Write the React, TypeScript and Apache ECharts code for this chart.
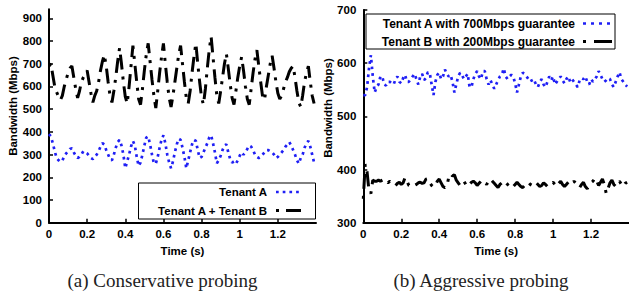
import React, { useEffect, useRef } from 'react';
import * as echarts from 'echarts';

// sampling step of the time axis (s)
const STEP = 0.01;

// (a) Conservative probing
const consTenantA = [
  390, 380, 350, 315, 285, 275, 268, 272, 295, 305,
  315, 325, 328, 310, 295, 285, 290, 300, 315, 310,
  305, 295, 285, 280, 290, 300, 315, 335, 350, 345,
  320, 300, 280, 275, 300, 330, 355, 365, 340, 300,
  240, 270, 300, 335, 360, 340, 290, 250, 265, 300,
  340, 375, 380, 345, 300, 262, 260, 290, 330, 365,
  385, 350, 300, 265, 240, 270, 310, 345, 370, 365,
  330, 290, 240, 275, 310, 345, 365, 360, 320, 285,
  290, 310, 330, 350, 375, 385, 350, 310, 262, 275,
  295, 320, 340, 345, 310, 280, 265, 270, 260, 275,
  295, 310, 300, 310, 325, 340, 335, 320, 300, 290,
  285, 290, 300, 310, 320, 320, 315, 310, 300, 285,
  290, 300, 310, 320, 335, 345, 355, 340, 320, 300,
  275, 260, 285, 300, 330, 350, 360, 335, 300, 265,
];
const consTenantAB = [
  690, 700, 650, 600, 575, 555, 540, 560, 600, 630,
  660, 680, 690, 640, 590, 550, 580, 620, 640, 655,
  670, 620, 570, 530, 560, 580, 620, 670, 710, 740,
  690, 620, 560, 530, 580, 640, 710, 770, 700, 620,
  555, 525, 600, 690, 780, 700, 620, 545, 520, 590,
  670, 740, 790, 710, 630, 560, 505, 580, 660, 730,
  790, 700, 620, 550, 510, 560, 620, 680, 740, 780,
  700, 620, 550, 525, 580, 660, 730, 790, 700, 620,
  550, 520, 590, 680, 760, 820, 730, 640, 560, 525,
  580, 640, 700, 745, 680, 610, 550, 520, 580, 640,
  690, 730, 670, 600, 545, 520, 590, 660, 720, 760,
  690, 620, 555, 540, 600, 650, 700, 735, 680, 620,
  570, 545, 560, 590, 620, 640, 665, 680, 690, 640,
  580, 530, 510, 560, 620, 660, 690, 620, 560, 525,
];

// (b) Aggressive probing
const aggTenantA = [
  540, 540, 555, 590, 615, 575, 545, 555, 560, 575,
  575, 560, 558, 565, 565, 562, 560, 570, 575, 565,
  562, 572, 578, 565, 565, 570, 575, 580, 570, 560,
  575, 580, 568, 572, 583, 582, 560, 540, 565, 578,
  582, 570, 575, 588, 580, 575, 578, 565, 545, 560,
  575, 582, 578, 570, 575, 580, 555, 555, 570, 580,
  585, 575, 570, 585, 585, 570, 560, 568, 560, 552,
  560, 568, 575, 578, 590, 575, 570, 575, 578, 575,
  562, 545, 560, 575, 582, 580, 575, 570, 572, 565,
  568, 560, 555, 565, 570, 560, 555, 565, 575, 568,
  575, 560, 565, 570, 575, 568, 562, 570, 575, 565,
  570, 565, 560, 555, 568, 572, 570, 575, 565, 560,
  570, 565, 570, 575, 585, 578, 570, 565, 568, 572,
  570, 560, 555, 565, 575, 583, 570, 565, 560, 556,
];
const aggTenantB = [
  345, 410, 395, 360, 355, 380, 378, 378, 380, 378,
  380, 382, 378, 375, 378, 375, 372, 370, 374, 376,
  372, 375, 385, 378, 370, 368, 368, 370, 372, 375,
  376, 374, 375, 382, 383, 375, 370, 367, 370, 378,
  382, 375, 368, 366, 368, 385, 392, 388, 390, 380,
  375, 370, 375, 378, 372, 368, 372, 376, 378, 375,
  370, 374, 378, 380, 376, 372, 378, 382, 378, 374,
  370, 366, 372, 375, 372, 368, 372, 375, 372, 368,
  372, 376, 372, 368, 366, 370, 374, 376, 372, 370,
  374, 376, 372, 368, 370, 375, 372, 368, 370, 374,
  376, 372, 368, 374, 378, 372, 368, 372, 376, 372,
  374, 378, 374, 368, 366, 372, 376, 368, 364, 370,
  375, 378, 384, 378, 370, 376, 382, 372, 355, 365,
  375, 380, 372, 368, 374, 378, 372, 368, 374, 376,
];

const seriesNames = [
  'Tenant A',
  'Tenant A + Tenant B',
  'Tenant A with 700Mbps guarantee',
  'Tenant B with 200Mbps guarantee',
];
const captions = ['(a) Conservative probing', '(b) Aggressive probing'];
const yAxisTitle = 'Bandwidth (Mbps)';
const xAxisTitle = 'Time (s)';

const BLUE = '#1f1ff5';
const BLACK = '#000000';
const SANS = '"Liberation Sans", Arial, sans-serif';
const SERIF = '"Liberation Serif", "Times New Roman", serif';
const BLUE_DASH = [2.7, 4];
const BLUE_DASH_B = [3, 5];
const BLACK_DASH = [3, 7, 15, 7];

const toPairs = (vals: number[]) => vals.map((v, i) => [Number((i * STEP).toFixed(2)), v]);

function axisCommon() {
  return {
    axisLine: { show: true, lineStyle: { color: BLACK, width: 2 } },
    axisTick: { show: true, inside: true, length: 4, lineStyle: { color: BLACK, width: 1.5 } },
    splitLine: { show: false },
    axisLabel: {
      color: BLACK,
      fontFamily: SANS,
      fontWeight: 'bold' as const,
      fontSize: 11.5,
    },
  };
}

export default function App() {
  const ref = useRef<HTMLDivElement>(null);

  useEffect(() => {
    document.body.style.margin = '0';
    if (!ref.current) return;
    const chart = echarts.init(ref.current, undefined, { renderer: 'svg' });

    const xAxisBase = (gridIndex: number) => {
      const c = axisCommon();
      return {
        type: 'value' as const,
        gridIndex,
        min: 0,
        max: 1.4,
        interval: 0.2,
        ...c,
        axisLabel: { ...c.axisLabel, margin: 5, showMaxLabel: false },
        name: xAxisTitle,
        nameLocation: 'middle' as const,
        nameGap: 17,
        nameTextStyle: { color: BLACK, fontFamily: SANS, fontWeight: 'bold' as const, fontSize: 11.5 },
      };
    };

    const legendText = (text: string, x: number, y: number, size: number) => ({
      type: 'text',
      z: 101,
      style: {
        text,
        x,
        y,
        align: 'right',
        verticalAlign: 'middle',
        fill: BLACK,
        font: `bold ${size}px ${SANS}`,
      },
    });
    const sample = (x1: number, x2: number, y: number, color: string, dash: number[], w: number) => ({
      type: 'line',
      z: 101,
      shape: { x1, y1: y, x2, y2: y },
      style: { stroke: color, lineWidth: w, lineDash: dash, lineCap: 'butt' },
    });

    chart.setOption({
      animation: false,
      grid: [
        { left: 49, top: 9.3, width: 267, height: 213.4 },
        { left: 363.3, top: 10, width: 266, height: 212.7 },
      ],
      xAxis: [xAxisBase(0), xAxisBase(1)],
      yAxis: [
        {
          type: 'value',
          gridIndex: 0,
          min: 0,
          max: 940,
          interval: 100,
          ...axisCommon(),
          axisLabel: { ...axisCommon().axisLabel, margin: 7, showMaxLabel: false },
        },
        {
          type: 'value',
          gridIndex: 1,
          min: 300,
          max: 700,
          interval: 100,
          ...axisCommon(),
          axisLabel: { ...axisCommon().axisLabel, margin: 7 },
        },
      ],
      series: [
        {
          name: seriesNames[0],
          type: 'line',
          xAxisIndex: 0,
          yAxisIndex: 0,
          data: toPairs(consTenantA),
          showSymbol: false,
          lineStyle: { color: BLUE, width: 2.7, type: BLUE_DASH, cap: 'butt' },
        },
        {
          name: seriesNames[1],
          type: 'line',
          xAxisIndex: 0,
          yAxisIndex: 0,
          data: toPairs(consTenantAB),
          showSymbol: false,
          lineStyle: { color: BLACK, width: 3, type: BLACK_DASH, cap: 'butt' },
        },
        {
          name: seriesNames[2],
          type: 'line',
          xAxisIndex: 1,
          yAxisIndex: 1,
          data: toPairs(aggTenantA),
          showSymbol: false,
          lineStyle: { color: BLUE, width: 2.7, type: BLUE_DASH, cap: 'butt' },
        },
        {
          name: seriesNames[3],
          type: 'line',
          xAxisIndex: 1,
          yAxisIndex: 1,
          data: toPairs(aggTenantB),
          showSymbol: false,
          lineStyle: { color: BLACK, width: 3, type: BLACK_DASH, cap: 'butt' },
        },
      ],
      graphic: [
        // y-axis titles
        {
          type: 'text',
          x: 13,
          y: 106,
          rotation: Math.PI / 2,
          style: { text: yAxisTitle, align: 'center', verticalAlign: 'middle', fill: BLACK, font: `bold 11.5px ${SANS}` },
        },
        {
          type: 'text',
          x: 328,
          y: 108,
          rotation: Math.PI / 2,
          style: { text: yAxisTitle, align: 'center', verticalAlign: 'middle', fill: BLACK, font: `bold 11.5px ${SANS}` },
        },
        // legend (a)
        {
          type: 'rect',
          z: 100,
          shape: { x: 138.5, y: 183, width: 177, height: 36 },
          style: { fill: '#ffffff', stroke: BLACK, lineWidth: 1 },
        },
        legendText(seriesNames[0], 267, 192, 11.5),
        legendText(seriesNames[1], 267, 210.5, 11.5),
        sample(276, 300, 192, BLUE, BLUE_DASH, 2.7),
        sample(276, 301, 210.5, BLACK, BLACK_DASH, 3),
        // legend (b)
        {
          type: 'rect',
          z: 100,
          shape: { x: 366, y: 14, width: 249, height: 35 },
          style: { fill: '#ffffff', stroke: BLACK, lineWidth: 1 },
        },
        legendText(seriesNames[2], 575, 23.5, 12),
        legendText(seriesNames[3], 575, 41.5, 12),
        sample(583, 612, 23.5, BLUE, BLUE_DASH_B, 2.7),
        sample(583, 612, 41.5, BLACK, [3, 8, 19, 8], 3),
        // captions
        {
          type: 'text',
          x: 162.5,
          y: 280,
          style: { text: captions[0], align: 'center', verticalAlign: 'middle', fill: '#222', font: `19px ${SERIF}` },
        },
        {
          type: 'text',
          x: 481,
          y: 280,
          style: { text: captions[1], align: 'center', verticalAlign: 'middle', fill: '#222', font: `19px ${SERIF}` },
        },
      ],
    });

    return () => chart.dispose();
  }, []);

  return <div ref={ref} style={{ width: 629, height: 293 }} />;
}
